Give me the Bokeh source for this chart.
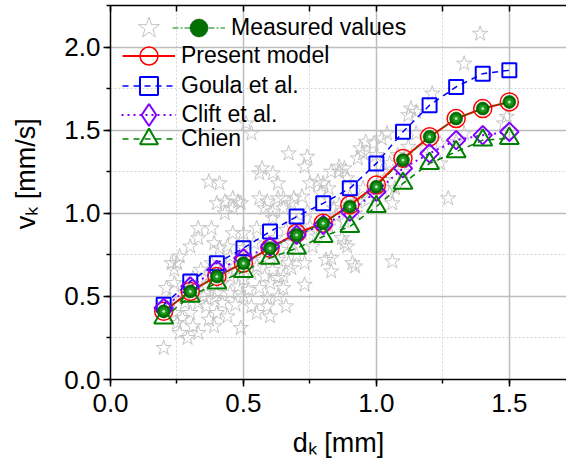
import math
from bokeh.plotting import figure
from bokeh.models import (Range1d, SingleIntervalTicker, FixedTicker, LinearAxis, Legend,
                          LegendItem, PrintfTickFormatter)
from bokeh.embed import file_html
from bokeh.resources import INLINE

FONT = "Liberation Sans"

# ---- data -------------------------------------------------------------
d_model = [0.2, 0.3, 0.4, 0.5, 0.6, 0.7, 0.8, 0.9, 1.0, 1.1, 1.2, 1.3, 1.4, 1.5]
v_measured_mean = [0.41, 0.53, 0.62, 0.70, 0.79, 0.87, 0.94, 1.04, 1.16, 1.32, 1.46, 1.57, 1.63, 1.67]
v_present = [0.41, 0.53, 0.62, 0.70, 0.79, 0.88, 0.94, 1.05, 1.17, 1.33, 1.46, 1.57, 1.63, 1.67]
v_goula = [0.45, 0.59, 0.70, 0.79, 0.89, 0.98, 1.06, 1.15, 1.30, 1.49, 1.65, 1.76, 1.84, 1.86]
v_clift = [0.43, 0.56, 0.66, 0.73, 0.80, 0.87, 0.93, 1.01, 1.13, 1.27, 1.36, 1.44, 1.47, 1.49]
v_chien = [0.37, 0.50, 0.58, 0.65, 0.73, 0.79, 0.86, 0.92, 1.04, 1.18, 1.30, 1.37, 1.44, 1.45]

star_d = [
    0.51, 0.53, 0.57, 0.56, 0.61, 0.63, 0.37, 0.41, 0.40, 0.43, 0.46, 0.48, 0.49, 0.46, 0.43,
    0.56, 0.59, 0.61, 0.58, 0.63, 0.61, 0.33, 0.38, 0.46, 0.50, 0.55,
    0.20, 0.26, 0.29, 0.25, 0.27, 0.31, 0.39, 0.33, 0.24, 0.21, 0.24, 0.24, 0.25, 0.30, 0.33,
    0.39, 0.41, 0.36, 0.40, 0.35, 0.39, 0.42, 0.45, 0.48, 0.50, 0.53, 0.49, 0.55, 0.59, 0.59,
    0.63, 0.45, 0.42, 0.36, 0.53, 0.58, 0.61, 0.63, 0.55, 0.63, 0.45, 0.50, 0.54, 0.59, 0.44,
    0.26, 0.23, 0.31, 0.36, 0.41, 0.40, 0.33, 0.30, 0.56, 0.60,
    1.06, 0.91, 0.92, 0.83, 0.83, 0.81, 0.88, 0.89, 0.87, 0.73, 0.66, 0.65, 0.68, 0.73, 0.67, 0.65,
    1.13, 1.15, 1.12, 1.04, 1.02, 0.99, 0.96, 0.94, 0.95, 0.93, 0.86, 0.88, 0.86, 0.74, 0.67,
    0.73, 0.78, 0.80, 0.82, 0.79, 0.75, 0.72, 0.69, 0.68, 0.65, 0.65, 0.74, 0.84, 1.06, 1.05,
    1.07, 0.95, 0.93, 1.15, 1.18, 0.83, 0.89,
    1.39, 1.33, 1.21, 1.49, 1.48, 1.24, 1.30, 1.33, 1.27, 1.24,
    0.62, 0.66, 0.70, 0.68, 0.72, 0.75, 0.64, 0.70, 0.76, 0.78, 0.82, 0.85, 0.88, 0.92, 0.97,
    1.00, 0.86, 0.90, 1.02, 1.05, 1.08, 1.10, 1.12, 1.00, 1.03,
    0.28, 0.32, 0.34, 0.38, 0.43, 0.47, 0.50, 0.52, 0.47, 0.44, 0.37, 0.28, 0.22, 0.52, 0.57, 0.60,
]
star_v = [
    1.54, 1.48, 1.27, 1.24, 1.24, 1.18, 1.19, 1.18, 1.06, 1.07, 1.09, 1.07, 1.06, 1.03, 1.00,
    1.09, 1.07, 1.01, 1.03, 1.09, 0.97, 0.91, 0.91, 0.88, 0.88, 0.91,
    0.19, 0.28, 0.25, 0.34, 0.37, 0.32, 0.32, 0.28, 0.40, 0.55, 0.58, 0.66, 0.70, 0.80, 0.85,
    0.82, 0.79, 0.44, 0.40, 0.50, 0.49, 0.46, 0.52, 0.56, 0.50, 0.44, 0.31, 0.40, 0.44, 0.49,
    0.50, 0.62, 0.58, 0.56, 0.64, 0.62, 0.66, 0.61, 0.68, 0.72, 0.74, 0.79, 0.82, 0.80, 0.80,
    0.74, 0.70, 0.61, 0.62, 0.64, 0.52, 0.46, 0.40, 0.55, 0.38,
    0.71, 0.70, 0.68, 0.65, 0.73, 0.72, 0.82, 0.80, 0.85, 0.57, 0.44, 0.55, 0.67, 0.70, 0.70, 0.62,
    1.63, 1.61, 1.59, 1.48, 1.45, 1.42, 1.43, 1.39, 1.36, 1.33, 1.28, 1.27, 1.25, 1.34, 1.36,
    1.28, 1.19, 1.18, 1.15, 1.12, 1.18, 1.10, 1.09, 1.06, 1.09, 1.03, 1.01, 1.03, 1.06, 1.12,
    1.15, 1.15, 1.07, 1.48, 1.39, 1.25, 1.21,
    2.08, 1.90, 1.72, 1.58, 1.54, 1.42, 1.43, 1.48, 1.09, 1.30,
    0.85, 0.90, 0.95, 0.82, 0.88, 0.92, 0.78, 0.75, 0.80, 0.86, 0.92, 0.98, 0.95, 1.00, 1.08,
    1.10, 1.05, 1.10, 1.25, 1.30, 1.35, 1.25, 1.40, 1.35, 1.20,
    0.52, 0.55, 0.66, 0.70, 0.68, 0.66, 0.60, 0.72, 0.45, 0.38, 0.36, 0.46, 0.48, 0.54, 0.72, 0.58,
]

x_range_max = 1.715
y_range_max = 2.25
tick_step = 0.5
x_title = "d\u2096 [mm]"
y_title = "\u00a0\u00a0\u00a0\u00a0\u00a0v\u2096 [mm/s]"

# ---- figure -----------------------------------------------------------
p = figure(width=566, height=468, output_backend="svg", toolbar_location=None,
           x_range=Range1d(0, x_range_max), y_range=Range1d(0, y_range_max),
           min_border_left=110, min_border_right=0, min_border_top=5, min_border_bottom=89,
           background_fill_color="white", border_fill_color="white", outline_line_color=None)

xt = SingleIntervalTicker(interval=tick_step, num_minor_ticks=2)
yt = SingleIntervalTicker(interval=tick_step, num_minor_ticks=2)
p.xaxis.ticker = xt
p.yaxis.ticker = yt
p.xgrid.ticker = xt
p.ygrid.ticker = yt

for ax in (p.xaxis[0], p.yaxis[0]):
    ax.formatter = PrintfTickFormatter(format="%.1f")
    ax.axis_line_color = "black"
    ax.axis_line_width = 1.5
    ax.major_tick_line_color = "black"
    ax.major_tick_line_width = 1.5
    ax.major_tick_out = 7
    ax.major_tick_in = 0
    ax.minor_tick_line_color = "black"
    ax.minor_tick_line_width = 1.5
    ax.minor_tick_out = 4
    ax.minor_tick_in = 0
    ax.major_label_text_font = FONT
    ax.major_label_text_font_size = "26px"
    ax.major_label_text_color = "black"
    ax.axis_label_text_font = FONT
    ax.axis_label_text_font_size = "27px"
    ax.axis_label_text_font_style = "normal"
    ax.axis_label_text_color = "black"
p.xaxis.major_label_standoff = 7
p.yaxis.major_label_standoff = 3
p.xaxis.axis_label = x_title
p.yaxis.axis_label = y_title
p.xaxis.axis_label_standoff = 13
p.yaxis.axis_label_standoff = 20

# top frame line with inward ticks only (no labels)
top_minor = [i * tick_step / 2 for i in range(int(x_range_max / (tick_step / 2)) + 1)]
top = LinearAxis(ticker=FixedTicker(ticks=[], minor_ticks=top_minor),
                 axis_line_color="black", axis_line_width=1.5,
                 major_tick_line_color=None,
                 minor_tick_line_color="black", minor_tick_line_width=1.5,
                 minor_tick_in=6, minor_tick_out=0)
p.add_layout(top, "above")

for g in (p.xgrid[0], p.ygrid[0]):
    g.grid_line_color = "#bdbdbd"
    g.grid_line_width = 1.5
    g.minor_grid_line_color = "#d6d6d6"
    g.minor_grid_line_dash = "2 2"
    g.minor_grid_line_width = 1

# ---- renderers ----------------------------------------------------------
stars = p.scatter(star_d, star_v, marker="star", size=16, fill_color=None,
                  line_color="#c4c4c4", line_width=1)

pl = p.line(d_model, v_present, line_color="#ff0000", line_width=2)
ps = p.scatter(d_model, v_present, marker="circle", size=18, fill_color=None,
               line_color="#ff0000", line_width=1.5)

gl = p.line(d_model, v_goula, line_color="#0000ff", line_width=1.5, line_dash="6 5")
gs = p.scatter(d_model, v_goula, marker="square", size=14, fill_color=None,
               line_color="#0000ff", line_width=2)

cl = p.line(d_model, v_clift, line_color="#8000ff", line_width=2, line_dash="2 4")
cs = p.scatter(d_model, v_clift, marker="square", angle=math.pi / 4, size=13, fill_color=None,
               line_color="#8000ff", line_width=2)
cs_leg = p.scatter(d_model, v_clift, marker="diamond", size=16, fill_color=None,
                   line_color="#8000ff", line_width=2, visible=False)

tl = p.line(d_model, v_chien, line_color="#008000", line_width=1.5, line_dash="6 5")
ts = p.scatter(d_model, v_chien, marker="triangle", size=19, fill_color=None,
               line_color="#008000", line_width=2)

ml = p.line(d_model, v_measured_mean, line_color="#008000", line_width=1, line_dash="6 2 2 2")
mb = p.scatter(d_model, v_measured_mean, marker="circle", size=13, fill_color="#007000",
               line_color="#004800", line_width=0.5)
mm = p.scatter(d_model, v_measured_mean, marker="circle", size=8, fill_color="#1e961e",
               line_color=None)
mh = p.scatter(d_model, v_measured_mean, marker="circle", size=3, fill_color="#b0e8b0",
               line_color=None)

# ---- legend: one small legend per row ----------------------------------------
leg_kw = dict(orientation="vertical", label_standoff=6,
              spacing=0, padding=0, margin=0, border_line_color=None,
              background_fill_alpha=0, label_text_font=FONT, label_text_font_size="23px",
              label_text_color="black")
legend_rows = [
    (" ", [stars], (10.5, 324.5), 55),
    ("Measured values", [ml, mb], (62, 329.5), 45),
    ("Present model", [pl, ps], (12, 301.5), 45),
    ("Goula et al.", [gl, gs], (12, 271.5), 45),
    ("Clift et al.", [cl, cs_leg], (10.5, 237.5), 55),
    ("Chien", [tl, ts], (12, 218.5), 45),
]
for text, rends, loc, gsize in legend_rows:
    gw = 53 if gsize == 45 else gsize
    p.add_layout(Legend(items=[LegendItem(label=text, renderers=rends)], location=loc,
                        glyph_width=gw, glyph_height=gsize, **leg_kw))

open("out.html", "w").write(file_html(p, INLINE))
